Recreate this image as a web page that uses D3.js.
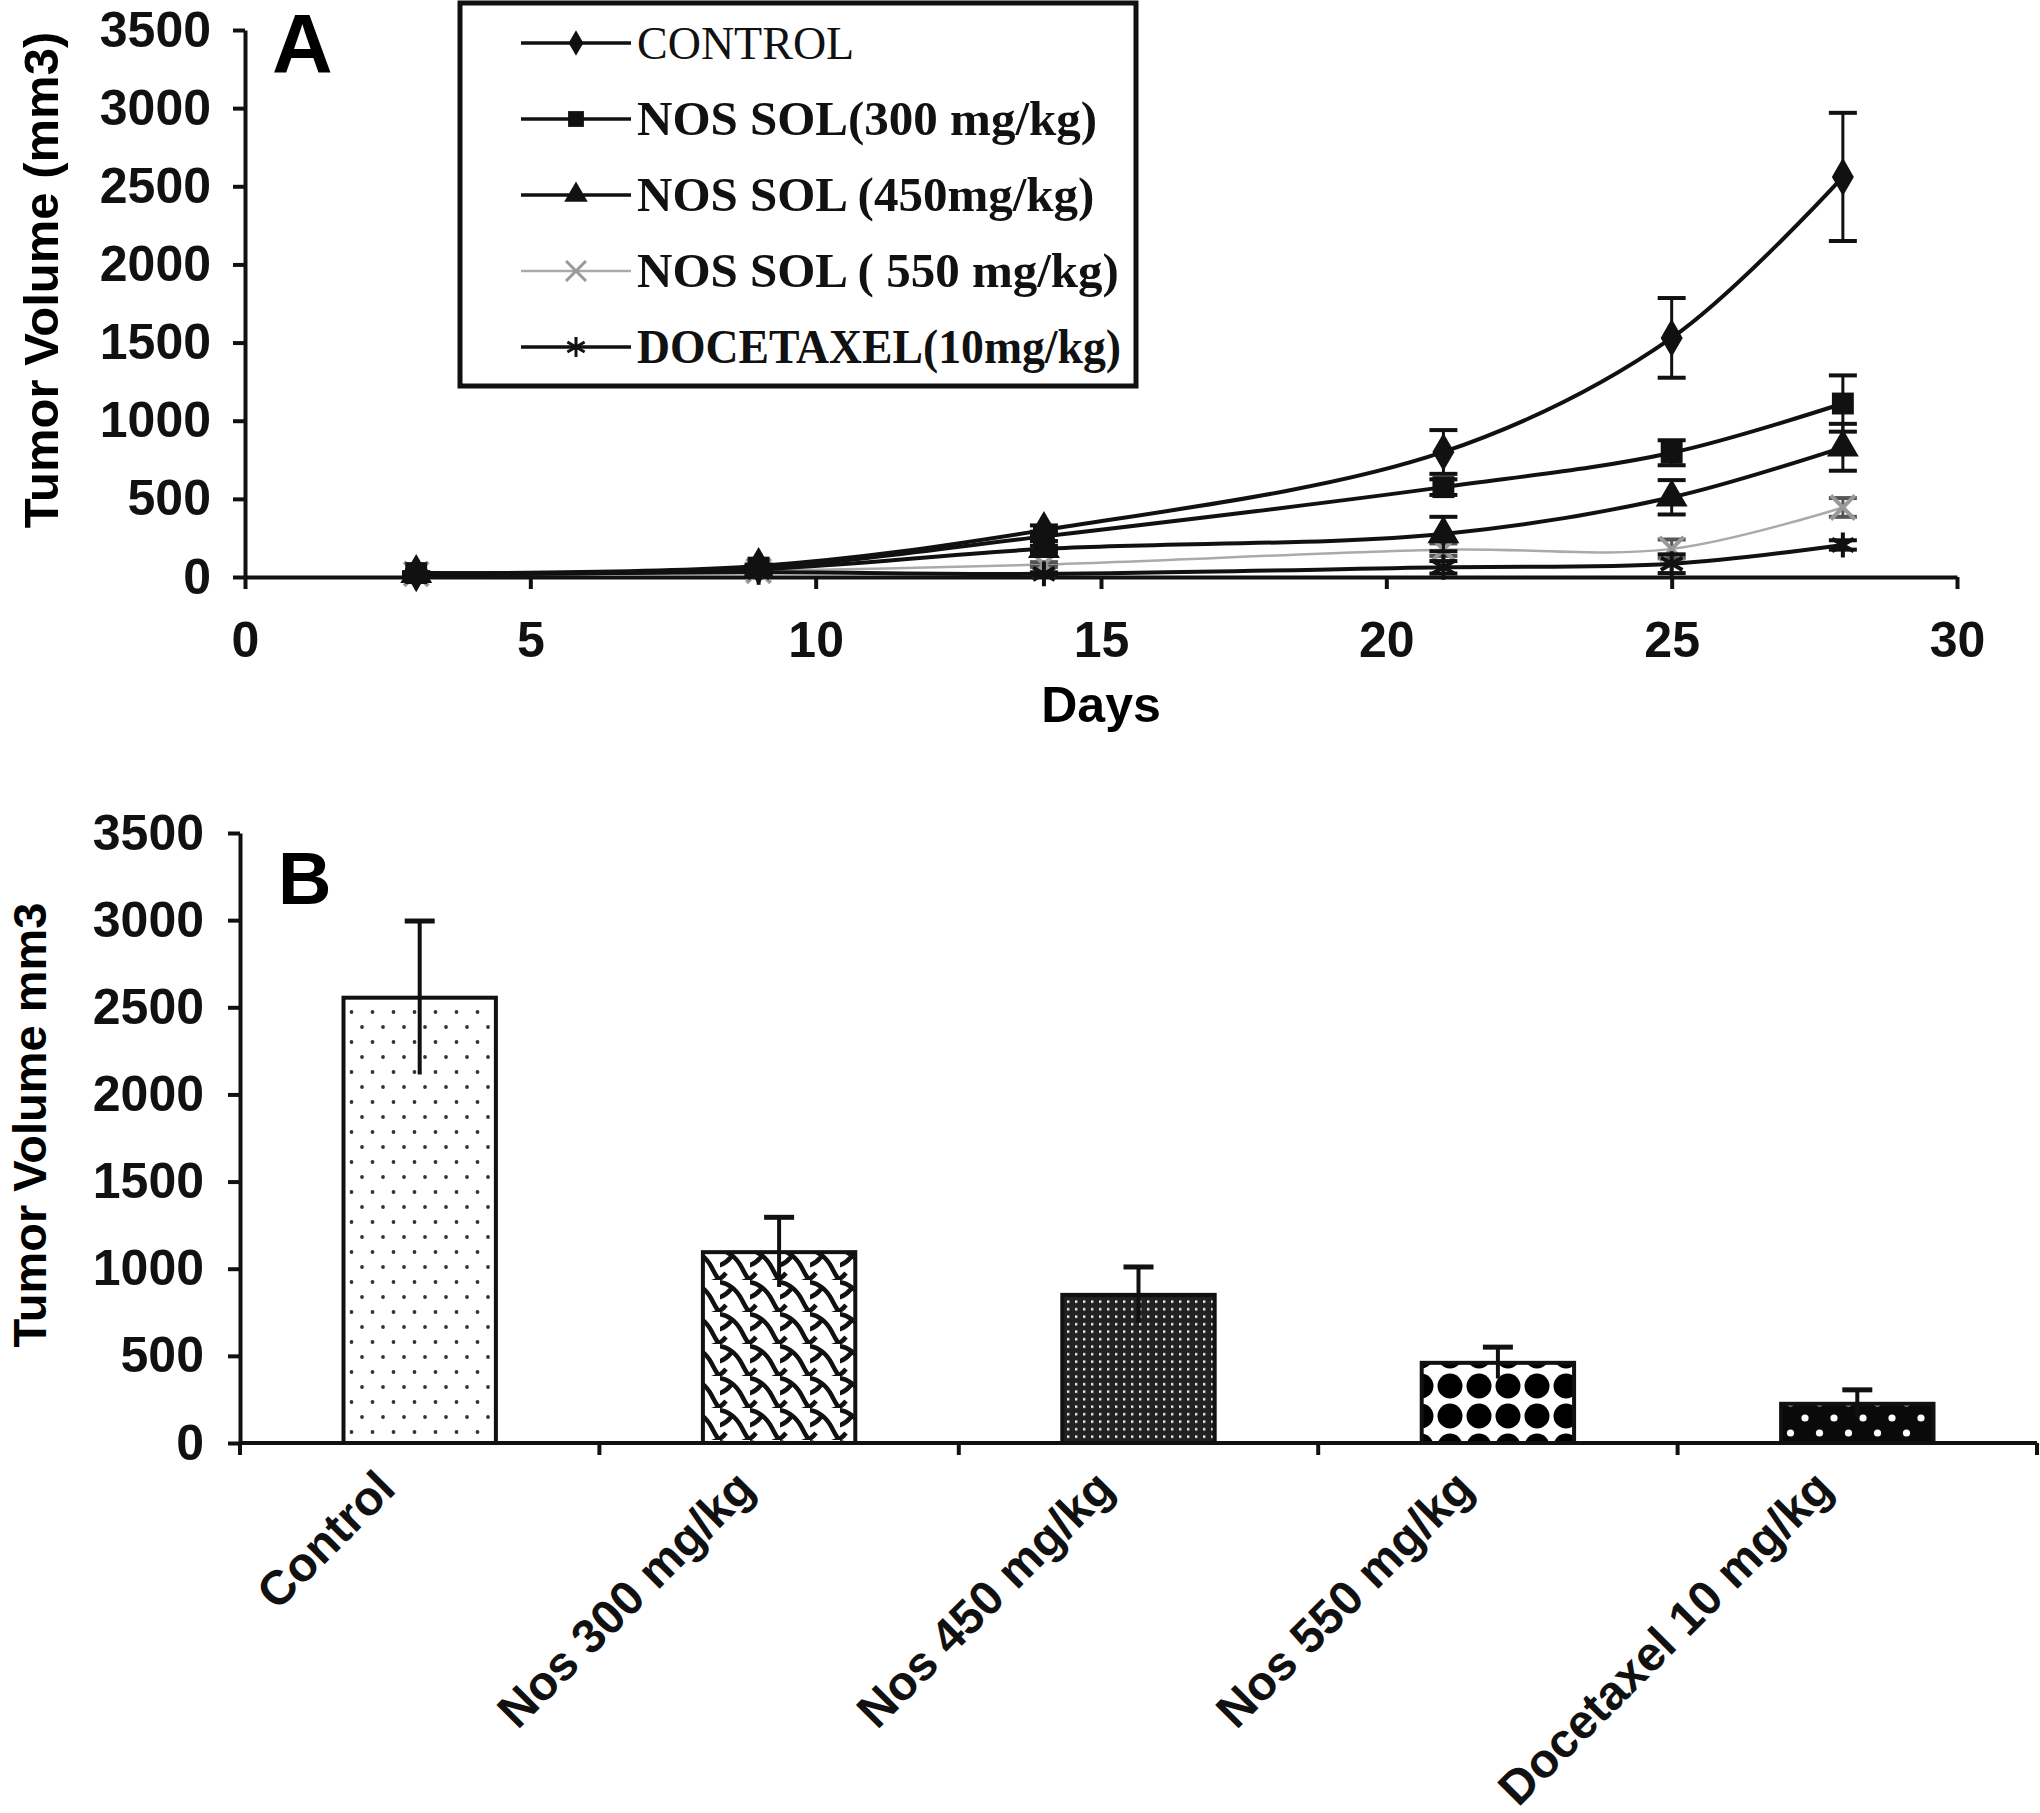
<!DOCTYPE html>
<html>
<head>
<meta charset="utf-8">
<script src="https://cdn.jsdelivr.net/npm/d3@7"></script>
<style>
body { margin: 0; background: #fff; }
svg { display: block; }
</style>
</head>
<body>
<div id="chart"></div>
<script>
// ---- panel A: tumor volume over time ----
var days = [3, 9, 14, 21, 25, 28];
var seriesNames = ["CONTROL", "NOS SOL(300 mg/kg)", "NOS SOL (450mg/kg)", "NOS SOL ( 550 mg/kg)", "DOCETAXEL(10mg/kg)"];
var controlVals = [25, 70, 300, 800, 1530, 2560];
var controlErr  = [5, 10, 30, 140, 255, 410];
var nos300Vals  = [25, 60, 260, 575, 795, 1110];
var nos300Err   = [5, 10, 30, 50, 80, 180];
var nos450Vals  = [20, 50, 180, 275, 510, 830];
var nos450Err   = [5, 10, 20, 110, 110, 150];
var nos550Vals  = [20, 40, 80, 175, 180, 445];
var nos550Err   = [5, 10, 15, 40, 60, 60];
var docVals     = [15, 30, 20, 62, 85, 205];
var docErr      = [5, 10, 10, 40, 60, 30];
var xTicksA = [0, 5, 10, 15, 20, 25, 30];
var yTicks = [0, 500, 1000, 1500, 2000, 2500, 3000, 3500];

// ---- panel B: final tumor volume ----
var groups = ["Control", "Nos 300 mg/kg", "Nos 450 mg/kg", "Nos 550 mg/kg", "Docetaxel 10 mg/kg"];
var groupMeans = [2555, 1095, 850, 460, 225];
var groupErr = [440, 200, 160, 90, 80];

var W = 2040, H = 1813;
var sans = "'Liberation Sans', Arial, sans-serif";
var serif = "'Liberation Serif', 'Times New Roman', serif";

var svg = d3.select("#chart").append("svg")
    .attr("width", W)
    .attr("height", H)
    .style("font-family", sans)
    .style("font-weight", "bold");

var defs = svg.append("defs");

// fill patterns for the bars
var pControl = defs.append("pattern").attr("id", "pat0")
    .attr("patternUnits", "userSpaceOnUse").attr("width", 21).attr("height", 30);
pControl.append("rect").attr("width", 21).attr("height", 30).attr("fill", "#fff");
pControl.append("circle").attr("cx", 5).attr("cy", 7).attr("r", 1.9).attr("fill", "#333");
pControl.append("circle").attr("cx", 15.5).attr("cy", 22).attr("r", 1.9).attr("fill", "#333");

var pShingle = defs.append("pattern").attr("id", "pat1")
    .attr("patternUnits", "userSpaceOnUse").attr("width", 30).attr("height", 32);
pShingle.append("rect").attr("width", 30).attr("height", 32).attr("fill", "#fff");
pShingle.append("path")
    .attr("d", "M-3,2 C8,2 17,10 22,20 S28,31 33,34 M-3,18 C2,17 7,14 11,9 M-8,34 C-3,33 2,30 6,25 M22,34 C27,33 32,30 36,25")
    .attr("fill", "none").attr("stroke", "#111").attr("stroke-width", 4.5);

var pFine = defs.append("pattern").attr("id", "pat2")
    .attr("patternUnits", "userSpaceOnUse").attr("width", 8).attr("height", 7.5);
pFine.append("rect").attr("width", 8).attr("height", 7.5).attr("fill", "#222");
pFine.append("rect").attr("x", 3).attr("y", 3).attr("width", 2.4).attr("height", 2.4).attr("fill", "#f2f2f2");

var pDiamond = defs.append("pattern").attr("id", "pat3")
    .attr("patternUnits", "userSpaceOnUse").attr("width", 29).attr("height", 30)
    .attr("y", 6);
pDiamond.append("rect").attr("width", 29).attr("height", 30).attr("fill", "#fff");
[[0, 0], [29, 0], [0, 30], [29, 30]].forEach(function(c) {
    pDiamond.append("circle").attr("cx", c[0]).attr("cy", c[1]).attr("r", 12.5).attr("fill", "#000");
});

var pDots = defs.append("pattern").attr("id", "pat4")
    .attr("patternUnits", "userSpaceOnUse").attr("width", 29).attr("height", 30);
pDots.append("rect").attr("width", 29).attr("height", 30).attr("fill", "#0a0a0a");
pDots.append("circle").attr("cx", 7).attr("cy", 8).attr("r", 3.6).attr("fill", "#fff");
pDots.append("circle").attr("cx", 21.5).attr("cy", 23).attr("r", 3.6).attr("fill", "#fff");

// =================== PANEL A ===================
var xA = d3.scaleLinear().domain([0, 30]).range([245, 1957]);
var yA = d3.scaleLinear().domain([0, 3500]).range([577, 30]);

var gA = svg.append("g");

function styleAxis(g) {
    g.select(".domain").attr("stroke", "#111").attr("stroke-width", 4);
    g.selectAll(".tick line").attr("stroke", "#111").attr("stroke-width", 4);
    g.selectAll(".tick text")
        .attr("fill", "#111")
        .style("font-size", "50px")
        .style("font-family", sans)
        .style("font-weight", "bold");
}

gA.append("g")
    .attr("transform", "translate(0," + yA(0) + ")")
    .call(d3.axisBottom(xA).tickValues(xTicksA).tickFormat(d3.format("d"))
        .tickSize(12).tickSizeOuter(0).tickPadding(32))
    .call(styleAxis);

gA.append("g")
    .attr("transform", "translate(" + xA(0) + ",0)")
    .call(d3.axisLeft(yA).tickValues(yTicks).tickFormat(d3.format("d"))
        .tickSize(12).tickSizeOuter(0).tickPadding(22))
    .call(styleAxis);

gA.append("text")
    .attr("transform", "translate(58,280) rotate(-90)")
    .attr("text-anchor", "middle")
    .style("font-size", "49px")
    .text("Tumor Volume (mm3)");

gA.append("text")
    .attr("x", (xA(0) + xA(30)) / 2)
    .attr("y", 722)
    .attr("text-anchor", "middle")
    .style("font-size", "50px")
    .text("Days");

gA.append("text")
    .attr("x", 272)
    .attr("y", 73)
    .style("font-size", "84px")
    .text("A");

var seriesVals = [controlVals, nos300Vals, nos450Vals, nos550Vals, docVals];
var seriesErr = [controlErr, nos300Err, nos450Err, nos550Err, docErr];
var seriesColor = ["#111", "#111", "#111", "#aaa", "#111"];
var seriesWidth = [4, 4, 4, 2.5, 4];
var seriesSymbol = [d3.symbolDiamond, d3.symbolSquare, d3.symbolTriangle, d3.symbolTimes, d3.symbolAsterisk];
var symbolSize = [420, 480, 440, 380, 440];
var strokeSymbol = [false, false, false, true, true];

var line = d3.line()
    .x(function(d) { return xA(d[0]); })
    .y(function(d) { return yA(d[1]); })
    .curve(d3.curveCatmullRom.alpha(0.5));

// gray series drawn first so the black ones sit on top
var drawOrder = [3, 4, 2, 1, 0];

drawOrder.forEach(function(s) {
    var pts = days.map(function(d, i) { return [d, seriesVals[s][i], seriesErr[s][i]]; });
    var ebColor = s === 3 ? "#555" : "#111";

    gA.append("path")
        .datum(pts)
        .attr("d", line)
        .attr("fill", "none")
        .attr("stroke", seriesColor[s])
        .attr("stroke-width", seriesWidth[s]);

    var eb = gA.selectAll(".eb" + s)
        .data(pts)
        .enter().append("g");
    eb.append("line")
        .attr("x1", function(d) { return xA(d[0]); })
        .attr("x2", function(d) { return xA(d[0]); })
        .attr("y1", function(d) { return yA(d[1] - d[2]); })
        .attr("y2", function(d) { return yA(d[1] + d[2]); })
        .attr("stroke", ebColor)
        .attr("stroke-width", 3);
    [1, -1].forEach(function(sign) {
        eb.append("line")
            .attr("x1", function(d) { return xA(d[0]) - 14; })
            .attr("x2", function(d) { return xA(d[0]) + 14; })
            .attr("y1", function(d) { return yA(d[1] + sign * d[2]); })
            .attr("y2", function(d) { return yA(d[1] + sign * d[2]); })
            .attr("stroke", ebColor)
            .attr("stroke-width", 4);
    });

    gA.selectAll(".mk" + s)
        .data(pts)
        .enter().append("path")
        .attr("d", d3.symbol().type(seriesSymbol[s]).size(symbolSize[s]))
        .attr("transform", function(d) { return "translate(" + xA(d[0]) + "," + yA(d[1]) + ")"; })
        .attr("fill", strokeSymbol[s] ? "none" : seriesColor[s])
        .attr("stroke", strokeSymbol[s] ? (s === 3 ? "#999" : "#111") : "none")
        .attr("stroke-width", 4);
});

// legend box
var legend = gA.append("g");
legend.append("rect")
    .attr("x", 460).attr("y", 3)
    .attr("width", 676).attr("height", 383)
    .attr("fill", "#fff")
    .attr("stroke", "#111")
    .attr("stroke-width", 5);

var legY = d3.scalePoint().domain(d3.range(seriesNames.length)).range([43, 347]);
var legSymbolSize = [190, 250, 240, 260, 280];

seriesNames.forEach(function(name, s) {
    var yy = legY(s);
    legend.append("line")
        .attr("x1", 521).attr("x2", 631)
        .attr("y1", yy).attr("y2", yy)
        .attr("stroke", seriesColor[s])
        .attr("stroke-width", s === 3 ? 2.5 : 3.5);
    legend.append("path")
        .attr("d", d3.symbol().type(seriesSymbol[s]).size(legSymbolSize[s]))
        .attr("transform", "translate(576," + yy + ")")
        .attr("fill", strokeSymbol[s] ? "none" : seriesColor[s])
        .attr("stroke", strokeSymbol[s] ? (s === 3 ? "#999" : "#111") : "none")
        .attr("stroke-width", 3);
    var t = legend.append("text")
        .attr("x", 637)
        .attr("y", yy + 16)
        .attr("fill", "#111")
        .style("font-family", serif)
        .style("font-weight", s === 0 ? "normal" : "bold")
        .style("font-size", s === 0 ? "46px" : "49px")
        .text(name);
    // the docetaxel entry is set tighter in the original
    if (s === 4) t.attr("textLength", 484).attr("lengthAdjust", "spacingAndGlyphs");
});

// =================== PANEL B ===================
var xB = d3.scaleBand().domain(groups).range([240, 2037]).paddingInner(0.576).paddingOuter(0.288);
var yB = d3.scaleLinear().domain([0, 3500]).range([1443, 833]);

var gB = svg.append("g");

gB.append("g")
    .attr("transform", "translate(" + xB.range()[0] + ",0)")
    .call(d3.axisLeft(yB).tickValues(yTicks).tickFormat(d3.format("d"))
        .tickSize(12).tickSizeOuter(0).tickPadding(24))
    .call(styleAxis);

gB.append("text")
    .attr("transform", "translate(46,1125) rotate(-90)")
    .attr("text-anchor", "middle")
    .style("font-size", "47px")
    .text("Tumor Volume mm3");

gB.append("text")
    .attr("x", 278)
    .attr("y", 904)
    .style("font-size", "74px")
    .text("B");

gB.selectAll(".bar")
    .data(groups)
    .enter().append("rect")
    .attr("x", function(d) { return xB(d); })
    .attr("y", function(d, i) { return yB(groupMeans[i]); })
    .attr("width", xB.bandwidth())
    .attr("height", function(d, i) { return yB(0) - yB(groupMeans[i]); })
    .attr("fill", function(d, i) { return "url(#pat" + i + ")"; })
    .attr("stroke", "#111")
    .attr("stroke-width", 4);

var ebB = gB.selectAll(".ebB")
    .data(groups)
    .enter().append("g");
ebB.append("line")
    .attr("x1", function(d) { return xB(d) + xB.bandwidth() / 2; })
    .attr("x2", function(d) { return xB(d) + xB.bandwidth() / 2; })
    .attr("y1", function(d, i) { return yB(groupMeans[i] - groupErr[i]); })
    .attr("y2", function(d, i) { return yB(groupMeans[i] + groupErr[i]); })
    .attr("stroke", "#111")
    .attr("stroke-width", 4);
ebB.append("line")
    .attr("x1", function(d) { return xB(d) + xB.bandwidth() / 2 - 15; })
    .attr("x2", function(d) { return xB(d) + xB.bandwidth() / 2 + 15; })
    .attr("y1", function(d, i) { return yB(groupMeans[i] + groupErr[i]); })
    .attr("y2", function(d, i) { return yB(groupMeans[i] + groupErr[i]); })
    .attr("stroke", "#111")
    .attr("stroke-width", 5);

// category axis with ticks on the band boundaries
var bounds = d3.range(groups.length + 1).map(function(i) { return xB.range()[0] + i * xB.step(); });
gB.append("line")
    .attr("x1", xB.range()[0]).attr("x2", xB.range()[1])
    .attr("y1", yB(0)).attr("y2", yB(0))
    .attr("stroke", "#111").attr("stroke-width", 4);
gB.selectAll(".btick")
    .data(bounds)
    .enter().append("line")
    .attr("x1", function(d) { return d; }).attr("x2", function(d) { return d; })
    .attr("y1", yB(0)).attr("y2", yB(0) + 12)
    .attr("stroke", "#111").attr("stroke-width", 4);

gB.selectAll(".blabel")
    .data(groups)
    .enter().append("text")
    .attr("transform", function(d) {
        return "translate(" + (xB(d) + xB.bandwidth() / 2 - 22) + "," + (yB(0) + 48) + ") rotate(-45)";
    })
    .attr("text-anchor", "end")
    .attr("fill", "#111")
    .style("font-size", "48px")
    .text(function(d) { return d; });
</script>
</body>
</html>
